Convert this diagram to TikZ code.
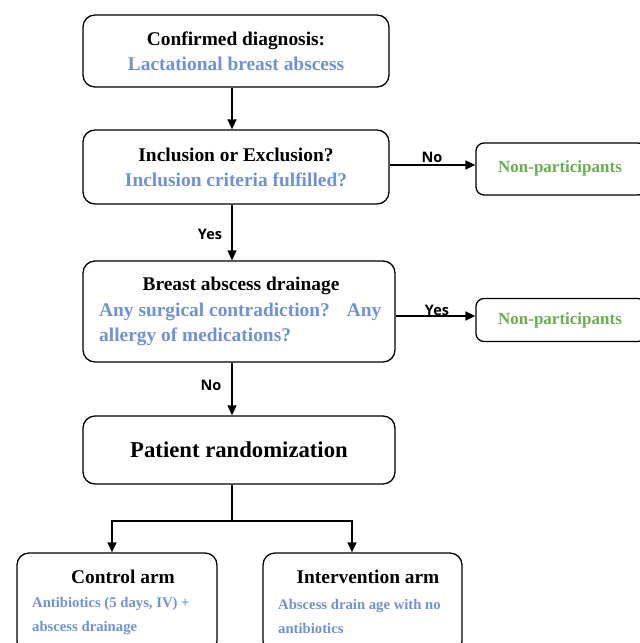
\documentclass[tikz,border=0pt]{standalone}
\usepackage{fontspec}
\setmainfont{Liberation Serif}
\newfontfamily\labelfont{Open Sans}
\usetikzlibrary{arrows.meta}
\definecolor{absblue}{RGB}{111,145,218}
\definecolor{npgreen}{RGB}{104,176,78}

\begin{document}
\begin{tikzpicture}[x=1pt,y=-1pt,
	box/.style={draw,line width=1.3pt,rounded corners=12pt,align=center,inner sep=0pt},
	big/.style={font=\fontsize{19.4}{25}\selectfont\bfseries},
	small/.style={font=\fontsize{14.7}{24}\selectfont\bfseries,text=absblue,align=left,inner sep=0pt},
	lab/.style={font=\labelfont\fontsize{14.5}{16}\selectfont\bfseries},
	arr/.style={line width=1.4pt,-{Triangle[length=10pt,width=9pt]}}]
		\useasboundingbox (0,0) rectangle (640,643);
		\clip (0,0) rectangle (640,643);
		%\draw[red] (0,0) grid[step=50] (640,643);
		\coordinate (spine) at (232,0);

		% main column
		\node[box,big,minimum width=306pt,minimum height=72pt] (conf) at (236,51)
			{Confirmed diagnosis:\\ \textcolor{absblue}{Lactational breast abscess}};
		\node[box,big,minimum width=306pt,minimum height=74pt] (incl) at (236,167)
			{Inclusion or Exclusion?\\ \textcolor{absblue}{Inclusion criteria fulfilled?}};
		\node[box,minimum width=312pt,minimum height=101pt] (drain) at (239,311.5) {};
		\node[big] (drainhead) at (241,286) {Breast abscess drainage};
		\node[big,text=absblue,align=left,anchor=west,inner sep=0pt] (draintext) at (99,324.5)
			{Any surgical contradiction?\hspace{17pt}Any\\ allergy of medications?};
		\node[box,font=\fontsize{22.7}{25}\selectfont\bfseries,minimum width=312pt,minimum height=68pt] (rand) at (239,450)
			{Patient randomization};

		% side boxes
		\node[box,font=\fontsize{17}{20}\selectfont\bfseries,text=npgreen,minimum width=170pt,minimum height=52pt,rounded corners=8pt] (np1) at (561,169)
			{\raisebox{4pt}{\hspace{-2pt}Non-participants}};
		\node[box,font=\fontsize{17}{20}\selectfont\bfseries,text=npgreen,minimum width=170pt,minimum height=43pt,rounded corners=8pt] (np2) at (561,320)
			{\hspace{-2pt}Non-participants};

		% arms
		\node[box,minimum width=200pt,minimum height=100pt] (ctrl) at (117,603) {};
		\node[big] (ctrlhead) at (123,577) {Control arm};
		\node[small,anchor=west] (ctrltext) at (32,616) {Antibiotics (5 days, IV) +\\ abscess drainage};
		\node[box,minimum width=199pt,minimum height=100pt] (intv) at (362.5,603) {};
		\node[big] (intvhead) at (368,577) {Intervention arm};
		\node[small,anchor=west] (intvtext) at (278,616) {Abscess drain age with no\\ antibiotics};

		% connectors
		\draw[arr] (conf.south -| spine) -- (incl.north -| spine);
		\draw[arr] (incl.south -| spine) -- (drain.north -| spine);
		\draw[arr] (drain.south -| spine) -- (rand.north -| spine);
		\node[lab] (yes1) at (210,234) {Yes};
		\node[lab] (no2) at (211,385) {No};

		\draw[arr] ([yshift=2pt]incl.east) -- ([yshift=2pt]incl.east -| np1.west);
		\node[lab] (no1) at (432,157) {No};
		\draw[arr] ([yshift=4pt]np2.west -| drain.east) -- ([yshift=4pt]np2.west);
		\node[lab] (yes2) at (437,310) {Yes};

		\coordinate (fork) at (232,521);
		\draw[line width=1.4pt] (rand.south -| spine) -- (fork);
		\draw[arr] (fork) -| ([xshift=-5pt]ctrl.north);
		\draw[arr] (fork) -| ([xshift=-10.5pt]intv.north);
	\end{tikzpicture}
\end{document}
